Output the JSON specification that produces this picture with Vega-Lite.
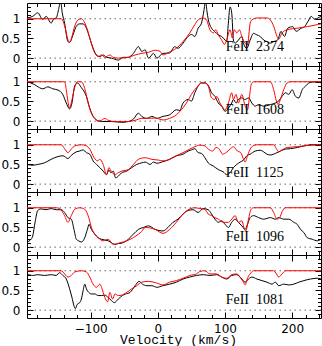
{
"$schema":"https://vega.github.io/schema/vega-lite/v6.json",
"background":"white",
"padding":{"left":0,"top":0,"right":0,"bottom":0},
"spacing":0,
"bounds":"flush",
"datasets":{
"d2374":[{"v":-195,"f":1.02},{"v":-186.5,"f":1.06},{"v":-179,"f":1.15},{"v":-171.5,"f":0.98},{"v":-166.5,"f":1.06},{"v":-159,"f":0.89},{"v":-155,"f":1.0},{"v":-151.5,"f":1.02},{"v":-148,"f":1.23},{"v":-145,"f":1.45},{"v":-142.5,"f":1.15},{"v":-139,"f":0.89},{"v":-134,"f":0.42},{"v":-131.5,"f":0.4},{"v":-126.5,"f":0.59},{"v":-121.5,"f":0.81},{"v":-116.5,"f":0.87},{"v":-111.5,"f":0.87},{"v":-106.5,"f":0.76},{"v":-101.5,"f":0.51},{"v":-96.5,"f":0.25},{"v":-91.5,"f":0.08},{"v":-86.5,"f":0.04},{"v":-81.5,"f":0.08},{"v":-76.5,"f":0.02},{"v":-69,"f":0.0},{"v":-59,"f":-0.05},{"v":-51.5,"f":0.02},{"v":-44,"f":0.02},{"v":-36.5,"f":0.12},{"v":-29,"f":0.29},{"v":-24,"f":0.17},{"v":-19,"f":0.21},{"v":-14,"f":0.0},{"v":-6.5,"f":0.12},{"v":-1.5,"f":0.0},{"v":7.5,"f":0.12},{"v":17.5,"f":0.13},{"v":25,"f":0.29},{"v":30,"f":0.25},{"v":37.5,"f":0.38},{"v":45,"f":0.55},{"v":50,"f":0.6},{"v":55,"f":0.55},{"v":60,"f":0.76},{"v":65,"f":0.89},{"v":68.5,"f":1.2},{"v":71,"f":1.45},{"v":73,"f":1.2},{"v":75,"f":0.99},{"v":80,"f":0.76},{"v":85,"f":0.67},{"v":90,"f":0.59},{"v":95,"f":0.55},{"v":100,"f":0.46},{"v":102.5,"f":0.42},{"v":105,"f":0.89},{"v":107.5,"f":1.3},{"v":110,"f":1.15},{"v":112.5,"f":0.46},{"v":115,"f":0.38},{"v":120,"f":0.46},{"v":125,"f":0.55},{"v":127.5,"f":0.38},{"v":132.5,"f":0.25},{"v":137.5,"f":0.46},{"v":142.5,"f":0.63},{"v":147.5,"f":0.59},{"v":152.5,"f":0.55},{"v":157.5,"f":0.46},{"v":162.5,"f":0.42},{"v":167.5,"f":0.38},{"v":172.5,"f":0.42},{"v":178.5,"f":0.46},{"v":183.5,"f":0.68},{"v":188.5,"f":0.55},{"v":193.5,"f":0.76},{"v":201,"f":0.8},{"v":206,"f":0.68},{"v":213.5,"f":0.76},{"v":218.5,"f":0.8},{"v":223.5,"f":0.93},{"v":228.5,"f":1.06},{"v":233.5,"f":0.99},{"v":238.5,"f":1.02},{"v":243,"f":1.06}],
"m2374":[{"v":-195,"f":1.0},{"v":-144,"f":1.0},{"v":-139,"f":0.82},{"v":-134,"f":0.47},{"v":-131.5,"f":0.4},{"v":-128,"f":0.55},{"v":-124,"f":0.81},{"v":-119,"f":0.97},{"v":-114,"f":1.0},{"v":-110,"f":0.93},{"v":-105,"f":0.72},{"v":-100,"f":0.42},{"v":-95,"f":0.17},{"v":-89,"f":0.04},{"v":-84,"f":0.08},{"v":-79,"f":0.02},{"v":-71.5,"f":0.08},{"v":-66.5,"f":0.02},{"v":-59,"f":0.0},{"v":-44,"f":0.02},{"v":-34,"f":0.08},{"v":-24,"f":0.12},{"v":-14,"f":0.15},{"v":-4,"f":0.2},{"v":3.5,"f":0.17},{"v":7.5,"f":0.08},{"v":17.5,"f":0.16},{"v":27.5,"f":0.25},{"v":37.5,"f":0.42},{"v":47.5,"f":0.64},{"v":55,"f":0.85},{"v":60,"f":0.97},{"v":67.5,"f":1.02},{"v":72.5,"f":0.97},{"v":77.5,"f":0.72},{"v":82.5,"f":0.64},{"v":86.5,"f":0.72},{"v":90,"f":0.59},{"v":95,"f":0.46},{"v":99,"f":0.35},{"v":102.5,"f":0.46},{"v":107.5,"f":0.72},{"v":111,"f":0.51},{"v":114,"f":0.72},{"v":117.5,"f":0.64},{"v":121.5,"f":0.72},{"v":125,"f":0.55},{"v":130,"f":0.38},{"v":133.5,"f":0.34},{"v":137.5,"f":0.89},{"v":140,"f":0.97},{"v":147.5,"f":1.02},{"v":162.5,"f":1.02},{"v":167.5,"f":0.97},{"v":172.5,"f":0.81},{"v":177.5,"f":0.55},{"v":180,"f":0.48},{"v":185,"f":0.64},{"v":192.5,"f":0.72},{"v":207.5,"f":0.76},{"v":222.5,"f":0.8},{"v":237.5,"f":0.85},{"v":243,"f":0.87}],
"d1608":[{"v":-195,"f":1.0},{"v":-184,"f":0.93},{"v":-176.5,"f":0.85},{"v":-171.5,"f":0.82},{"v":-164,"f":0.87},{"v":-156.5,"f":0.82},{"v":-149,"f":0.79},{"v":-141.5,"f":0.67},{"v":-136.5,"f":0.46},{"v":-131.5,"f":0.31},{"v":-128,"f":0.46},{"v":-124,"f":0.89},{"v":-120,"f":0.97},{"v":-114,"f":0.85},{"v":-106.5,"f":0.63},{"v":-101.5,"f":0.33},{"v":-96.5,"f":0.12},{"v":-91.5,"f":0.03},{"v":-84,"f":-0.01},{"v":-69,"f":-0.01},{"v":-54,"f":-0.03},{"v":-44,"f":-0.01},{"v":-36.5,"f":0.05},{"v":-29,"f":0.2},{"v":-24,"f":0.12},{"v":-16.5,"f":0.07},{"v":-9,"f":0.12},{"v":-1.5,"f":0.07},{"v":7.5,"f":0.12},{"v":17.5,"f":0.16},{"v":27.5,"f":0.29},{"v":32.5,"f":0.27},{"v":37.5,"f":0.46},{"v":45,"f":0.55},{"v":50,"f":0.51},{"v":55,"f":0.72},{"v":60,"f":0.89},{"v":65,"f":0.97},{"v":70,"f":0.97},{"v":75,"f":0.91},{"v":80,"f":0.72},{"v":85,"f":0.63},{"v":90,"f":0.46},{"v":95,"f":0.38},{"v":100,"f":0.25},{"v":105,"f":0.33},{"v":110,"f":0.46},{"v":112.5,"f":0.55},{"v":116.5,"f":0.46},{"v":120,"f":0.55},{"v":125,"f":0.59},{"v":130,"f":0.55},{"v":135,"f":0.59},{"v":140,"f":0.46},{"v":145,"f":0.38},{"v":150,"f":0.42},{"v":157.5,"f":0.38},{"v":167.5,"f":0.42},{"v":175,"f":0.46},{"v":180,"f":0.51},{"v":185,"f":0.63},{"v":190,"f":0.72},{"v":195,"f":0.68},{"v":200,"f":0.8},{"v":205,"f":0.63},{"v":210,"f":0.59},{"v":215,"f":0.8},{"v":220,"f":0.89},{"v":225,"f":0.97},{"v":230,"f":0.99},{"v":237.5,"f":1.0},{"v":243,"f":0.97}],
"m1608":[{"v":-195,"f":1.0},{"v":-139,"f":1.0},{"v":-136.5,"f":0.8},{"v":-134,"f":0.5},{"v":-131.5,"f":0.33},{"v":-128,"f":0.55},{"v":-124,"f":0.85},{"v":-120,"f":1.0},{"v":-114,"f":1.0},{"v":-109,"f":0.83},{"v":-104,"f":0.46},{"v":-99,"f":0.2},{"v":-94,"f":0.07},{"v":-89,"f":0.0},{"v":-84,"f":0.02},{"v":-79,"f":0.07},{"v":-74,"f":0.02},{"v":-64,"f":-0.01},{"v":-44,"f":-0.01},{"v":-34,"f":0.02},{"v":-24,"f":0.07},{"v":-14,"f":0.07},{"v":-4,"f":0.08},{"v":7.5,"f":0.03},{"v":17.5,"f":0.07},{"v":27.5,"f":0.16},{"v":35,"f":0.29},{"v":42.5,"f":0.46},{"v":50,"f":0.68},{"v":57.5,"f":0.85},{"v":65,"f":0.97},{"v":70,"f":0.97},{"v":75,"f":0.89},{"v":80,"f":0.59},{"v":85,"f":0.55},{"v":87.5,"f":0.63},{"v":92.5,"f":0.46},{"v":97.5,"f":0.33},{"v":100,"f":0.29},{"v":105,"f":0.46},{"v":110,"f":0.72},{"v":112.5,"f":0.55},{"v":116.5,"f":0.68},{"v":120,"f":0.46},{"v":125,"f":0.68},{"v":130,"f":0.38},{"v":133.5,"f":0.29},{"v":136.5,"f":0.63},{"v":139,"f":0.93},{"v":142.5,"f":1.0},{"v":167.5,"f":1.0},{"v":172.5,"f":0.8},{"v":176.5,"f":0.51},{"v":179,"f":0.42},{"v":182.5,"f":0.55},{"v":187.5,"f":0.8},{"v":192.5,"f":0.97},{"v":197.5,"f":1.0},{"v":243,"f":1.0}],
"d1125":[{"v":-195,"f":0.5},{"v":-186.5,"f":0.48},{"v":-179,"f":0.5},{"v":-169,"f":0.54},{"v":-159,"f":0.63},{"v":-149,"f":0.7},{"v":-141.5,"f":0.72},{"v":-134,"f":0.65},{"v":-129,"f":0.73},{"v":-121.5,"f":0.82},{"v":-116.5,"f":0.84},{"v":-111.5,"f":0.87},{"v":-106.5,"f":0.8},{"v":-101.5,"f":0.76},{"v":-96.5,"f":0.59},{"v":-91.5,"f":0.5},{"v":-86.5,"f":0.42},{"v":-81.5,"f":0.33},{"v":-76.5,"f":0.24},{"v":-73,"f":0.36},{"v":-70,"f":0.29},{"v":-66.5,"f":0.33},{"v":-63,"f":0.16},{"v":-59,"f":0.2},{"v":-54,"f":0.29},{"v":-46.5,"f":0.33},{"v":-39,"f":0.42},{"v":-31.5,"f":0.5},{"v":-24,"f":0.54},{"v":-19,"f":0.56},{"v":-11.5,"f":0.5},{"v":-6.5,"f":0.56},{"v":-1.5,"f":0.53},{"v":7.5,"f":0.57},{"v":17.5,"f":0.63},{"v":27.5,"f":0.72},{"v":37.5,"f":0.76},{"v":45,"f":0.84},{"v":50,"f":0.87},{"v":55,"f":0.9},{"v":60,"f":0.8},{"v":65,"f":0.78},{"v":70,"f":0.67},{"v":75,"f":0.54},{"v":82.5,"f":0.46},{"v":90,"f":0.37},{"v":97.5,"f":0.31},{"v":102.5,"f":0.24},{"v":107.5,"f":0.29},{"v":112.5,"f":0.42},{"v":117.5,"f":0.5},{"v":122.5,"f":0.56},{"v":127.5,"f":0.61},{"v":132.5,"f":0.72},{"v":137.5,"f":0.76},{"v":145,"f":0.84},{"v":152.5,"f":0.86},{"v":157.5,"f":0.82},{"v":162.5,"f":0.76},{"v":167.5,"f":0.74},{"v":172.5,"f":0.76},{"v":177.5,"f":0.8},{"v":182.5,"f":0.84},{"v":190,"f":0.89},{"v":197.5,"f":0.9},{"v":207.5,"f":0.93},{"v":217.5,"f":0.97},{"v":227.5,"f":1.0},{"v":243,"f":1.0}],
"m1125":[{"v":-195,"f":1.0},{"v":-144,"f":1.0},{"v":-139,"f":0.9},{"v":-134,"f":0.8},{"v":-129,"f":0.89},{"v":-124,"f":0.97},{"v":-114,"f":1.0},{"v":-106.5,"f":0.97},{"v":-101.5,"f":0.89},{"v":-95,"f":0.67},{"v":-90,"f":0.59},{"v":-86.5,"f":0.63},{"v":-81.5,"f":0.5},{"v":-76.5,"f":0.24},{"v":-73,"f":0.42},{"v":-69,"f":0.31},{"v":-64,"f":0.24},{"v":-59,"f":0.29},{"v":-54,"f":0.33},{"v":-44,"f":0.37},{"v":-36.5,"f":0.5},{"v":-29,"f":0.63},{"v":-19,"f":0.67},{"v":-9,"f":0.63},{"v":1,"f":0.61},{"v":7.5,"f":0.59},{"v":17.5,"f":0.63},{"v":27.5,"f":0.72},{"v":37.5,"f":0.8},{"v":47.5,"f":0.89},{"v":55,"f":0.95},{"v":62.5,"f":0.99},{"v":70,"f":0.97},{"v":75,"f":0.89},{"v":81.5,"f":0.84},{"v":86.5,"f":0.93},{"v":91.5,"f":0.89},{"v":96.5,"f":0.76},{"v":101.5,"f":0.8},{"v":107.5,"f":0.89},{"v":112.5,"f":0.95},{"v":118.5,"f":0.84},{"v":123.5,"f":0.8},{"v":127.5,"f":0.63},{"v":130,"f":0.56},{"v":133.5,"f":0.72},{"v":137.5,"f":0.89},{"v":141.5,"f":0.97},{"v":147.5,"f":1.0},{"v":172.5,"f":1.0},{"v":176.5,"f":0.9},{"v":180,"f":0.82},{"v":185,"f":0.87},{"v":192.5,"f":0.93},{"v":207.5,"f":0.95},{"v":222.5,"f":0.98},{"v":243,"f":1.0}],
"d1096":[{"v":-195,"f":0.13},{"v":-189,"f":0.2},{"v":-186.5,"f":0.28},{"v":-183,"f":0.63},{"v":-179,"f":0.93},{"v":-174,"f":0.97},{"v":-166.5,"f":0.95},{"v":-159,"f":0.98},{"v":-151.5,"f":0.95},{"v":-144,"f":0.95},{"v":-139,"f":0.88},{"v":-134,"f":0.75},{"v":-129,"f":0.71},{"v":-125,"f":0.45},{"v":-121.5,"f":0.2},{"v":-118,"f":0.16},{"v":-114,"f":0.13},{"v":-109,"f":0.24},{"v":-105,"f":0.45},{"v":-102.5,"f":0.58},{"v":-99,"f":0.45},{"v":-94,"f":0.33},{"v":-89,"f":0.24},{"v":-84,"f":0.2},{"v":-74,"f":0.16},{"v":-64,"f":0.07},{"v":-59,"f":0.09},{"v":-54,"f":0.1},{"v":-44,"f":0.2},{"v":-36.5,"f":0.33},{"v":-29,"f":0.45},{"v":-21.5,"f":0.5},{"v":-14,"f":0.54},{"v":-4,"f":0.45},{"v":7.5,"f":0.41},{"v":15,"f":0.5},{"v":22.5,"f":0.63},{"v":30,"f":0.71},{"v":37.5,"f":0.84},{"v":45,"f":0.93},{"v":52.5,"f":0.95},{"v":60,"f":0.88},{"v":67.5,"f":0.98},{"v":75,"f":0.95},{"v":80,"f":0.84},{"v":85,"f":0.71},{"v":90,"f":0.63},{"v":95,"f":0.67},{"v":100,"f":0.58},{"v":105,"f":0.5},{"v":110,"f":0.63},{"v":115,"f":0.71},{"v":120,"f":0.63},{"v":125,"f":0.54},{"v":130,"f":0.45},{"v":133.5,"f":0.58},{"v":137.5,"f":0.75},{"v":142.5,"f":0.8},{"v":150,"f":0.75},{"v":157.5,"f":0.71},{"v":167.5,"f":0.75},{"v":175,"f":0.71},{"v":180,"f":0.75},{"v":187.5,"f":0.71},{"v":195,"f":0.71},{"v":202.5,"f":0.63},{"v":207.5,"f":0.58},{"v":212.5,"f":0.45},{"v":217.5,"f":0.37},{"v":222.5,"f":0.24},{"v":230,"f":0.2},{"v":237.5,"f":0.16},{"v":243,"f":0.2}],
"m1096":[{"v":-195,"f":1.0},{"v":-151.5,"f":1.0},{"v":-146.5,"f":0.98},{"v":-139,"f":0.8},{"v":-134,"f":0.63},{"v":-129,"f":0.8},{"v":-124,"f":0.96},{"v":-116.5,"f":1.0},{"v":-109,"f":0.96},{"v":-103,"f":0.75},{"v":-99,"f":0.5},{"v":-94,"f":0.33},{"v":-89,"f":0.24},{"v":-81.5,"f":0.16},{"v":-74,"f":0.2},{"v":-66.5,"f":0.07},{"v":-56.5,"f":0.11},{"v":-46.5,"f":0.16},{"v":-36.5,"f":0.24},{"v":-29,"f":0.33},{"v":-24,"f":0.4},{"v":-19,"f":0.5},{"v":-4,"f":0.45},{"v":7.5,"f":0.35},{"v":17.5,"f":0.45},{"v":27.5,"f":0.63},{"v":37.5,"f":0.84},{"v":47.5,"f":0.97},{"v":55,"f":1.0},{"v":62.5,"f":0.98},{"v":70,"f":0.96},{"v":75,"f":0.84},{"v":80,"f":0.8},{"v":85,"f":0.75},{"v":90,"f":0.71},{"v":97.5,"f":0.63},{"v":105,"f":0.63},{"v":110,"f":0.71},{"v":115,"f":0.8},{"v":120,"f":0.63},{"v":125,"f":0.67},{"v":129,"f":0.45},{"v":131,"f":0.41},{"v":135,"f":0.71},{"v":138.5,"f":0.95},{"v":142.5,"f":1.0},{"v":167.5,"f":1.0},{"v":172.5,"f":0.88},{"v":177.5,"f":0.71},{"v":181.5,"f":0.75},{"v":185,"f":0.9},{"v":190,"f":1.0},{"v":243,"f":1.0}],
"d1081":[{"v":-195,"f":0.92},{"v":-186.5,"f":0.88},{"v":-179,"f":0.9},{"v":-169,"f":0.88},{"v":-159,"f":0.9},{"v":-151.5,"f":0.88},{"v":-146.5,"f":0.95},{"v":-141.5,"f":0.88},{"v":-136.5,"f":0.79},{"v":-131.5,"f":0.54},{"v":-128,"f":0.32},{"v":-125,"f":0.11},{"v":-123,"f":0.04},{"v":-120,"f":0.15},{"v":-116.5,"f":0.19},{"v":-114,"f":0.28},{"v":-111.5,"f":0.49},{"v":-109,"f":0.66},{"v":-106.5,"f":0.54},{"v":-103,"f":0.45},{"v":-99,"f":0.41},{"v":-94,"f":0.41},{"v":-89,"f":0.37},{"v":-84,"f":0.37},{"v":-79,"f":0.38},{"v":-74,"f":0.32},{"v":-69,"f":0.24},{"v":-65,"f":0.19},{"v":-59,"f":0.28},{"v":-53,"f":0.37},{"v":-48,"f":0.41},{"v":-41.5,"f":0.45},{"v":-34,"f":0.62},{"v":-28,"f":0.73},{"v":-23,"f":0.66},{"v":-16.5,"f":0.62},{"v":-9,"f":0.62},{"v":-1.5,"f":0.58},{"v":7.5,"f":0.62},{"v":17.5,"f":0.66},{"v":27.5,"f":0.71},{"v":37.5,"f":0.79},{"v":47.5,"f":0.84},{"v":57.5,"f":0.88},{"v":67.5,"f":0.9},{"v":77.5,"f":0.88},{"v":87.5,"f":0.9},{"v":95,"f":0.84},{"v":102.5,"f":0.79},{"v":110,"f":0.88},{"v":117.5,"f":0.9},{"v":125,"f":0.79},{"v":130,"f":0.71},{"v":135,"f":0.79},{"v":140,"f":0.84},{"v":147.5,"f":0.79},{"v":155,"f":0.75},{"v":162.5,"f":0.71},{"v":170,"f":0.66},{"v":175,"f":0.71},{"v":180,"f":0.62},{"v":187.5,"f":0.66},{"v":195,"f":0.64},{"v":202.5,"f":0.66},{"v":210,"f":0.71},{"v":217.5,"f":0.75},{"v":227.5,"f":0.79},{"v":237.5,"f":0.81},{"v":243,"f":0.79}],
"m1081":[{"v":-195,"f":1.0},{"v":-144,"f":1.0},{"v":-139,"f":0.92},{"v":-134,"f":0.84},{"v":-129,"f":0.88},{"v":-124,"f":0.97},{"v":-114,"f":1.0},{"v":-106.5,"f":0.97},{"v":-101.5,"f":0.84},{"v":-96.5,"f":0.66},{"v":-91.5,"f":0.58},{"v":-86.5,"f":0.66},{"v":-84,"f":0.58},{"v":-79,"f":0.32},{"v":-75,"f":0.21},{"v":-71.5,"f":0.45},{"v":-67.5,"f":0.28},{"v":-64,"f":0.41},{"v":-59,"f":0.37},{"v":-54,"f":0.38},{"v":-46.5,"f":0.45},{"v":-39,"f":0.54},{"v":-31.5,"f":0.62},{"v":-24,"f":0.71},{"v":-14,"f":0.73},{"v":-4,"f":0.7},{"v":7.5,"f":0.64},{"v":17.5,"f":0.71},{"v":27.5,"f":0.75},{"v":37.5,"f":0.81},{"v":47.5,"f":0.88},{"v":57.5,"f":0.92},{"v":62.5,"f":0.98},{"v":70,"f":1.0},{"v":77.5,"f":0.92},{"v":87.5,"f":0.92},{"v":95,"f":0.84},{"v":102.5,"f":0.81},{"v":110,"f":0.9},{"v":117.5,"f":0.92},{"v":123.5,"f":0.81},{"v":127.5,"f":0.71},{"v":130,"f":0.64},{"v":133.5,"f":0.81},{"v":137.5,"f":0.92},{"v":142.5,"f":1.0},{"v":172.5,"f":1.0},{"v":176.5,"f":0.92},{"v":180,"f":0.84},{"v":185,"f":0.92},{"v":190,"f":1.0},{"v":243,"f":1.0}],
"refs":[{"f":0},{"f":1}]
},
"vconcat":[
{"width":294,"height":63,"resolve":{"axis":{"x":"independent","y":"independent"}},"layer":[
{"data":{"name":"refs"},"mark":{"type":"rule","stroke":"#666666","strokeDash":[1.5,3.5],"strokeWidth":1},"encoding":{"y":{"field":"f","type":"quantitative","scale":{"domain":[-0.2,1.4],"nice":false,"zero":false},"axis":null}}},
{"data":{"name":"d2374"},"mark":{"type":"line","color":"black","strokeWidth":1,"clip":true,"interpolate":"monotone"},"encoding":{"x":{"field":"v","type":"quantitative","scale":{"domain":[-195,243],"nice":false,"zero":false},"axis":{"orient":"bottom","values":[-180,-160,-140,-120,-100,-80,-60,-40,-20,0,20,40,60,80,100,120,140,160,180,200,220,240],"tickSize":{"condition":{"test":"datum.value % 100 === 0","value":-6},"value":-3.5},"labels":false,"title":null}},"y":{"field":"f","type":"quantitative","scale":{"domain":[-0.2,1.4],"nice":false,"zero":false},"axis":{"orient":"left","values":[-0.1,0,0.1,0.2,0.3,0.4,0.5,0.6,0.7,0.8,0.9,1,1.1,1.2,1.3],"tickSize":{"condition":{"test":"abs(datum.value*2 - round(datum.value*2)) < 0.001","value":-6},"value":-3.5},"labelExpr":"abs(datum.value-1)<0.001 ? '1' : abs(datum.value-0.5)<0.001 ? '0.5' : abs(datum.value)<0.001 ? '0' : ''","labelPadding":13,"title":null}}}},
{"data":{"name":"m2374"},"mark":{"type":"line","color":"#ff0000","strokeWidth":1,"clip":true,"interpolate":"monotone"},"encoding":{"x":{"field":"v","type":"quantitative","scale":{"domain":[-195,243],"nice":false,"zero":false},"axis":{"orient":"top","values":[-180,-160,-140,-120,-100,-80,-60,-40,-20,0,20,40,60,80,100,120,140,160,180,200,220,240],"tickSize":{"condition":{"test":"datum.value % 100 === 0","value":-6},"value":-3.5},"labels":false,"title":null}},"y":{"field":"f","type":"quantitative","scale":{"domain":[-0.2,1.4],"nice":false,"zero":false},"axis":{"orient":"right","values":[-0.1,0,0.1,0.2,0.3,0.4,0.5,0.6,0.7,0.8,0.9,1,1.1,1.2,1.3],"tickSize":{"condition":{"test":"abs(datum.value*2 - round(datum.value*2)) < 0.001","value":-6},"value":-3.5},"labels":false,"title":null}}}},
{"data":{"values":[{"label":"FeII\u00a0\u00a02374"}]},"mark":{"type":"text","font":"Liberation Serif","fontSize":14,"align":"left","baseline":"middle","color":"black"},"encoding":{"x":{"datum":101,"type":"quantitative","scale":{"domain":[-195,243],"nice":false,"zero":false},"axis":null},"y":{"datum":0.29,"type":"quantitative","scale":{"domain":[-0.2,1.4],"nice":false,"zero":false},"axis":null},"text":{"field":"label"}}}
]},
{"width":294,"height":63,"resolve":{"axis":{"x":"independent","y":"independent"}},"layer":[
{"data":{"name":"refs"},"mark":{"type":"rule","stroke":"#666666","strokeDash":[1.5,3.5],"strokeWidth":1},"encoding":{"y":{"field":"f","type":"quantitative","scale":{"domain":[-0.2,1.4],"nice":false,"zero":false},"axis":null}}},
{"data":{"name":"d1608"},"mark":{"type":"line","color":"black","strokeWidth":1,"clip":true,"interpolate":"monotone"},"encoding":{"x":{"field":"v","type":"quantitative","scale":{"domain":[-195,243],"nice":false,"zero":false},"axis":{"orient":"bottom","values":[-180,-160,-140,-120,-100,-80,-60,-40,-20,0,20,40,60,80,100,120,140,160,180,200,220,240],"tickSize":{"condition":{"test":"datum.value % 100 === 0","value":-6},"value":-3.5},"labels":false,"title":null}},"y":{"field":"f","type":"quantitative","scale":{"domain":[-0.2,1.4],"nice":false,"zero":false},"axis":{"orient":"left","values":[-0.1,0,0.1,0.2,0.3,0.4,0.5,0.6,0.7,0.8,0.9,1,1.1,1.2,1.3],"tickSize":{"condition":{"test":"abs(datum.value*2 - round(datum.value*2)) < 0.001","value":-6},"value":-3.5},"labelExpr":"abs(datum.value-1)<0.001 ? '1' : abs(datum.value-0.5)<0.001 ? '0.5' : abs(datum.value)<0.001 ? '0' : ''","labelPadding":13,"title":null}}}},
{"data":{"name":"m1608"},"mark":{"type":"line","color":"#ff0000","strokeWidth":1,"clip":true,"interpolate":"monotone"},"encoding":{"x":{"field":"v","type":"quantitative","scale":{"domain":[-195,243],"nice":false,"zero":false},"axis":{"orient":"top","values":[-180,-160,-140,-120,-100,-80,-60,-40,-20,0,20,40,60,80,100,120,140,160,180,200,220,240],"tickSize":{"condition":{"test":"datum.value % 100 === 0","value":-6},"value":-3.5},"labels":false,"title":null}},"y":{"field":"f","type":"quantitative","scale":{"domain":[-0.2,1.4],"nice":false,"zero":false},"axis":{"orient":"right","values":[-0.1,0,0.1,0.2,0.3,0.4,0.5,0.6,0.7,0.8,0.9,1,1.1,1.2,1.3],"tickSize":{"condition":{"test":"abs(datum.value*2 - round(datum.value*2)) < 0.001","value":-6},"value":-3.5},"labels":false,"title":null}}}},
{"data":{"values":[{"label":"FeII\u00a0\u00a01608"}]},"mark":{"type":"text","font":"Liberation Serif","fontSize":14,"align":"left","baseline":"middle","color":"black"},"encoding":{"x":{"datum":101,"type":"quantitative","scale":{"domain":[-195,243],"nice":false,"zero":false},"axis":null},"y":{"datum":0.28,"type":"quantitative","scale":{"domain":[-0.2,1.4],"nice":false,"zero":false},"axis":null},"text":{"field":"label"}}}
]},
{"width":294,"height":63,"resolve":{"axis":{"x":"independent","y":"independent"}},"layer":[
{"data":{"name":"refs"},"mark":{"type":"rule","stroke":"#666666","strokeDash":[1.5,3.5],"strokeWidth":1},"encoding":{"y":{"field":"f","type":"quantitative","scale":{"domain":[-0.2,1.4],"nice":false,"zero":false},"axis":null}}},
{"data":{"name":"d1125"},"mark":{"type":"line","color":"black","strokeWidth":1,"clip":true,"interpolate":"monotone"},"encoding":{"x":{"field":"v","type":"quantitative","scale":{"domain":[-195,243],"nice":false,"zero":false},"axis":{"orient":"bottom","values":[-180,-160,-140,-120,-100,-80,-60,-40,-20,0,20,40,60,80,100,120,140,160,180,200,220,240],"tickSize":{"condition":{"test":"datum.value % 100 === 0","value":-6},"value":-3.5},"labels":false,"title":null}},"y":{"field":"f","type":"quantitative","scale":{"domain":[-0.2,1.4],"nice":false,"zero":false},"axis":{"orient":"left","values":[-0.1,0,0.1,0.2,0.3,0.4,0.5,0.6,0.7,0.8,0.9,1,1.1,1.2,1.3],"tickSize":{"condition":{"test":"abs(datum.value*2 - round(datum.value*2)) < 0.001","value":-6},"value":-3.5},"labelExpr":"abs(datum.value-1)<0.001 ? '1' : abs(datum.value-0.5)<0.001 ? '0.5' : abs(datum.value)<0.001 ? '0' : ''","labelPadding":13,"title":null}}}},
{"data":{"name":"m1125"},"mark":{"type":"line","color":"#ff0000","strokeWidth":1,"clip":true,"interpolate":"monotone"},"encoding":{"x":{"field":"v","type":"quantitative","scale":{"domain":[-195,243],"nice":false,"zero":false},"axis":{"orient":"top","values":[-180,-160,-140,-120,-100,-80,-60,-40,-20,0,20,40,60,80,100,120,140,160,180,200,220,240],"tickSize":{"condition":{"test":"datum.value % 100 === 0","value":-6},"value":-3.5},"labels":false,"title":null}},"y":{"field":"f","type":"quantitative","scale":{"domain":[-0.2,1.4],"nice":false,"zero":false},"axis":{"orient":"right","values":[-0.1,0,0.1,0.2,0.3,0.4,0.5,0.6,0.7,0.8,0.9,1,1.1,1.2,1.3],"tickSize":{"condition":{"test":"abs(datum.value*2 - round(datum.value*2)) < 0.001","value":-6},"value":-3.5},"labels":false,"title":null}}}},
{"data":{"values":[{"label":"FeII\u00a0\u00a01125"}]},"mark":{"type":"text","font":"Liberation Serif","fontSize":14,"align":"left","baseline":"middle","color":"black"},"encoding":{"x":{"datum":101,"type":"quantitative","scale":{"domain":[-195,243],"nice":false,"zero":false},"axis":null},"y":{"datum":0.27,"type":"quantitative","scale":{"domain":[-0.2,1.4],"nice":false,"zero":false},"axis":null},"text":{"field":"label"}}}
]},
{"width":294,"height":63,"resolve":{"axis":{"x":"independent","y":"independent"}},"layer":[
{"data":{"name":"refs"},"mark":{"type":"rule","stroke":"#666666","strokeDash":[1.5,3.5],"strokeWidth":1},"encoding":{"y":{"field":"f","type":"quantitative","scale":{"domain":[-0.2,1.4],"nice":false,"zero":false},"axis":null}}},
{"data":{"name":"d1096"},"mark":{"type":"line","color":"black","strokeWidth":1,"clip":true,"interpolate":"monotone"},"encoding":{"x":{"field":"v","type":"quantitative","scale":{"domain":[-195,243],"nice":false,"zero":false},"axis":{"orient":"bottom","values":[-180,-160,-140,-120,-100,-80,-60,-40,-20,0,20,40,60,80,100,120,140,160,180,200,220,240],"tickSize":{"condition":{"test":"datum.value % 100 === 0","value":-6},"value":-3.5},"labels":false,"title":null}},"y":{"field":"f","type":"quantitative","scale":{"domain":[-0.2,1.4],"nice":false,"zero":false},"axis":{"orient":"left","values":[-0.1,0,0.1,0.2,0.3,0.4,0.5,0.6,0.7,0.8,0.9,1,1.1,1.2,1.3],"tickSize":{"condition":{"test":"abs(datum.value*2 - round(datum.value*2)) < 0.001","value":-6},"value":-3.5},"labelExpr":"abs(datum.value-1)<0.001 ? '1' : abs(datum.value-0.5)<0.001 ? '0.5' : abs(datum.value)<0.001 ? '0' : ''","labelPadding":13,"title":null}}}},
{"data":{"name":"m1096"},"mark":{"type":"line","color":"#ff0000","strokeWidth":1,"clip":true,"interpolate":"monotone"},"encoding":{"x":{"field":"v","type":"quantitative","scale":{"domain":[-195,243],"nice":false,"zero":false},"axis":{"orient":"top","values":[-180,-160,-140,-120,-100,-80,-60,-40,-20,0,20,40,60,80,100,120,140,160,180,200,220,240],"tickSize":{"condition":{"test":"datum.value % 100 === 0","value":-6},"value":-3.5},"labels":false,"title":null}},"y":{"field":"f","type":"quantitative","scale":{"domain":[-0.2,1.4],"nice":false,"zero":false},"axis":{"orient":"right","values":[-0.1,0,0.1,0.2,0.3,0.4,0.5,0.6,0.7,0.8,0.9,1,1.1,1.2,1.3],"tickSize":{"condition":{"test":"abs(datum.value*2 - round(datum.value*2)) < 0.001","value":-6},"value":-3.5},"labels":false,"title":null}}}},
{"data":{"values":[{"label":"FeII\u00a0\u00a01096"}]},"mark":{"type":"text","font":"Liberation Serif","fontSize":14,"align":"left","baseline":"middle","color":"black"},"encoding":{"x":{"datum":101,"type":"quantitative","scale":{"domain":[-195,243],"nice":false,"zero":false},"axis":null},"y":{"datum":0.26,"type":"quantitative","scale":{"domain":[-0.2,1.4],"nice":false,"zero":false},"axis":null},"text":{"field":"label"}}}
]},
{"width":294,"height":63,"resolve":{"axis":{"x":"independent","y":"independent"}},"layer":[
{"data":{"name":"refs"},"mark":{"type":"rule","stroke":"#666666","strokeDash":[1.5,3.5],"strokeWidth":1},"encoding":{"y":{"field":"f","type":"quantitative","scale":{"domain":[-0.2,1.4],"nice":false,"zero":false},"axis":null}}},
{"data":{"name":"d1081"},"mark":{"type":"line","color":"black","strokeWidth":1,"clip":true,"interpolate":"monotone"},"encoding":{"x":{"field":"v","type":"quantitative","scale":{"domain":[-195,243],"nice":false,"zero":false},"axis":{"orient":"bottom","values":[-180,-160,-140,-120,-100,-80,-60,-40,-20,0,20,40,60,80,100,120,140,160,180,200,220,240],"tickSize":{"condition":{"test":"datum.value % 100 === 0","value":-6},"value":-3.5},"labelExpr":"datum.value % 100 === 0 ? datum.label : ''","labelPadding":11,"title":"Velocity (km/s)","titleFont":"Liberation Mono","titleFontSize":13,"titleFontWeight":"normal","titleColor":"black","titleX":151,"titleY":25,"titleBaseline":"alphabetic","titleAlign":"center"}},"y":{"field":"f","type":"quantitative","scale":{"domain":[-0.2,1.4],"nice":false,"zero":false},"axis":{"orient":"left","values":[-0.1,0,0.1,0.2,0.3,0.4,0.5,0.6,0.7,0.8,0.9,1,1.1,1.2,1.3],"tickSize":{"condition":{"test":"abs(datum.value*2 - round(datum.value*2)) < 0.001","value":-6},"value":-3.5},"labelExpr":"abs(datum.value-1)<0.001 ? '1' : abs(datum.value-0.5)<0.001 ? '0.5' : abs(datum.value)<0.001 ? '0' : ''","labelPadding":13,"title":null}}}},
{"data":{"name":"m1081"},"mark":{"type":"line","color":"#ff0000","strokeWidth":1,"clip":true,"interpolate":"monotone"},"encoding":{"x":{"field":"v","type":"quantitative","scale":{"domain":[-195,243],"nice":false,"zero":false},"axis":{"orient":"top","values":[-180,-160,-140,-120,-100,-80,-60,-40,-20,0,20,40,60,80,100,120,140,160,180,200,220,240],"tickSize":{"condition":{"test":"datum.value % 100 === 0","value":-6},"value":-3.5},"labels":false,"title":null}},"y":{"field":"f","type":"quantitative","scale":{"domain":[-0.2,1.4],"nice":false,"zero":false},"axis":{"orient":"right","values":[-0.1,0,0.1,0.2,0.3,0.4,0.5,0.6,0.7,0.8,0.9,1,1.1,1.2,1.3],"tickSize":{"condition":{"test":"abs(datum.value*2 - round(datum.value*2)) < 0.001","value":-6},"value":-3.5},"labels":false,"title":null}}}},
{"data":{"values":[{"label":"FeII\u00a0\u00a01081"}]},"mark":{"type":"text","font":"Liberation Serif","fontSize":14,"align":"left","baseline":"middle","color":"black"},"encoding":{"x":{"datum":101,"type":"quantitative","scale":{"domain":[-195,243],"nice":false,"zero":false},"axis":null},"y":{"datum":0.26,"type":"quantitative","scale":{"domain":[-0.2,1.4],"nice":false,"zero":false},"axis":null},"text":{"field":"label"}}}
]}
],
"config":{
"view":{"stroke":"black","strokeWidth":1},
"axis":{"domain":false,"grid":false,"tickColor":"black","tickWidth":1,"labelFont":"DejaVu Sans","labelFontSize":12,"labelColor":"black","labelOverlap":false,"labelFlush":false}
}
}
